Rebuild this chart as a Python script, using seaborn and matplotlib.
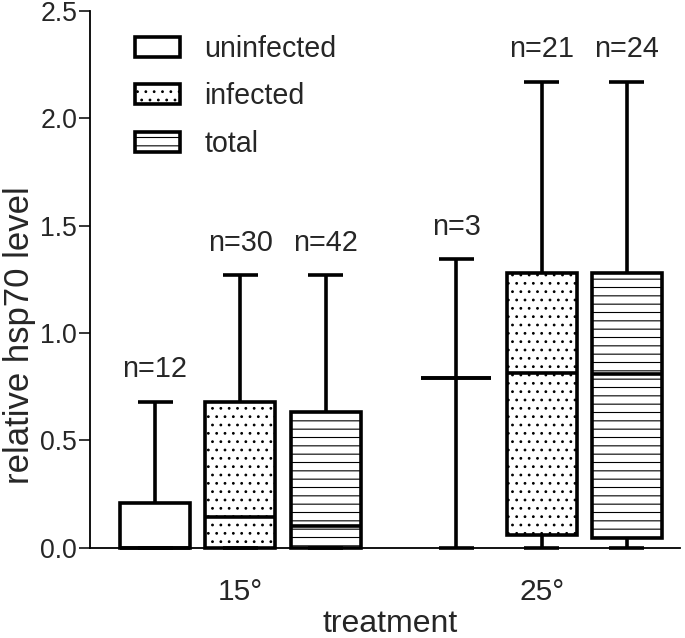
import matplotlib
matplotlib.use("Agg")
import matplotlib.pyplot as plt
import matplotlib.ticker as mticker
from matplotlib.patches import Patch
import pandas as pd
import seaborn as sns

# Five-number summaries: min, q1, median, q3, max
treatments = ["15°", "25°"]
groups = ["uninfected", "infected", "total"]
uninfected_15 = [0.0, 0.0, 0.0, 0.21, 0.68]
infected_15 = [0.0, 0.0, 0.145, 0.677, 1.27]
total_15 = [0.0, 0.0, 0.10, 0.633, 1.27]
uninfected_25 = [0.0, 0.79, 0.79, 0.79, 1.345]
infected_25 = [0.0, 0.06, 0.815, 1.277, 2.17]
total_25 = [0.0, 0.045, 0.81, 1.28, 2.17]
n_counts = [12, 30, 42, 3, 21, 24]
hatches = ["", "..", "--"]

sns.set_style("ticks")
plt.rcParams["font.family"] = ["Liberation Sans", "DejaVu Sans"]
plt.rcParams["hatch.linewidth"] = 0.8

series = [uninfected_15, infected_15, total_15,
          uninfected_25, infected_25, total_25]
rows = []
for i, vals in enumerate(series):
    for v in vals:
        rows.append({"treatment": treatments[i // 3],
                     "group": groups[i % 3], "value": v})
df = pd.DataFrame(rows)

fig = plt.figure(figsize=(6.85, 6.38), dpi=100)
ax = fig.add_axes([0.131, 0.1415, 0.862, 0.8415])

sns.boxplot(data=df, x="treatment", y="value", hue="group",
            order=treatments, hue_order=groups,
            palette={g: "white" for g in groups}, linecolor="black",
            linewidth=2.6, whis=(0, 100), width=0.85, gap=0.18,
            showfliers=False, legend=False, ax=ax)

# hatch the boxes by their horizontal position
boxes = sorted(ax.patches, key=lambda p: p.get_path().vertices[:, 0].mean())
for i, p in enumerate(boxes):
    p.set_hatch(hatches[i % 3])
    p.set_clip_on(False)
for ln in ax.lines:
    ln.set_clip_on(False)
    ln.set_solid_capstyle("butt")

# sample size labels above the upper whiskers
step = 0.85 / 3
for i, vals in enumerate(series):
    x = i // 3 + (i % 3 - 1) * step
    ax.text(x, max(vals) + 0.085, f"n={n_counts[i]}", ha="center",
            va="bottom", fontsize=20.8)

ax.set_ylim(0, 2.5)
ax.set_xlim(-0.5, 1.46)
ax.yaxis.set_major_locator(mticker.MultipleLocator(0.5))
ax.yaxis.set_major_formatter(mticker.FormatStrFormatter("%.1f"))
ax.tick_params(axis="y", labelsize=19.2, length=8, width=1.3, pad=1)
ax.tick_params(axis="x", labelsize=21.5, length=0, pad=22)
ax.set_xlabel("treatment", fontsize=23)
ax.xaxis.set_label_coords(0.508, -0.114)
ax.set_ylabel("relative hsp70 level", fontsize=25)
ax.yaxis.set_label_coords(-0.0915, 0.396)
for side in ["top", "right"]:
    ax.spines[side].set_visible(False)
for side in ["left", "bottom"]:
    ax.spines[side].set_linewidth(1.3)
    ax.spines[side].set_color("black")

handles = [Patch(facecolor="white", edgecolor="black", linewidth=2.6,
                 hatch=h, label=g) for g, h in zip(groups, hatches)]
ax.legend(handles=handles, loc="upper left", bbox_to_anchor=(0.076, 0.955),
          frameon=False, fontsize=20.6, handlelength=1.6, handleheight=0.7,
          handletextpad=0.84, labelspacing=0.68, borderpad=0, borderaxespad=0)

fig.savefig("out.png", dpi=100)
plt.close(fig)
